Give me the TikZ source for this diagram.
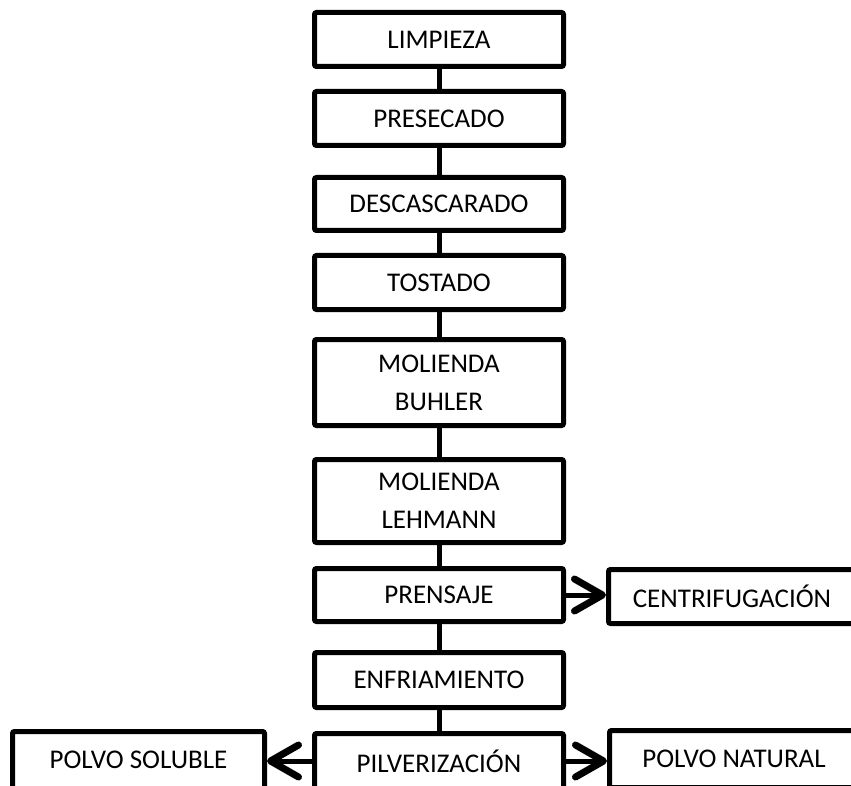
\documentclass[tikz,border=0pt]{standalone}
\usepackage{fontspec}
\setmainfont{Carlito}
\usetikzlibrary{arrows.meta}
\begin{document}
\begin{tikzpicture}[x=1pt,y=-1pt,
  stage/.style={draw, line width=5pt, rounded corners=2pt, inner sep=0pt,
    minimum width=249pt, font=\fontsize{27}{38}\selectfont, align=center},
  link/.style={line width=5pt},
  flow/.style={line width=5pt,
    -{Straight Barb[length=28pt,width=32pt,line width=7pt,round]}}]
\useasboundingbox (0,0) rectangle (851,786);
\clip (0,0) rectangle (851,786);

% main process column
\node[stage, minimum height=54pt] (limpieza) at (439,39.5) {LIMPIEZA};
\node[stage, minimum height=54pt] (presecado) at (439,118.5) {PRESECADO};
\node[stage, minimum height=53pt] (descascarado) at (439,204) {DESCASCARADO};
\node[stage, minimum height=54pt] (tostado) at (439,282.5) {TOSTADO};
\node[stage, minimum height=86pt] (buhler) at (439,382.5) {MOLIENDA\\BUHLER};
\node[stage, minimum height=83pt] (lehmann) at (439,501) {MOLIENDA\\LEHMANN};
\node[stage, minimum height=53pt] (prensaje) at (439,595) {PRENSAJE};
\node[stage, minimum height=55pt] (enfriamiento) at (439,680) {ENFRIAMIENTO};
\node[stage, minimum height=55pt] (pulver) at (439,761) {PILVERIZACIÓN};

% side products
\node[stage, minimum width=247pt, minimum height=54pt] (centri) at (732,596.5) {CENTRIFUGACIÓN};
\node[stage, minimum width=249pt, minimum height=57pt] (natural) at (734,759) {POLVO NATURAL};
\node[stage, minimum width=252pt, minimum height=57pt] (soluble) at (138.5,760) {POLVO SOLUBLE};

% vertical links
\draw[link] (limpieza) -- (presecado);
\draw[link] (presecado) -- (descascarado);
\draw[link] (descascarado) -- (tostado);
\draw[link] (tostado) -- (buhler);
\draw[link] (buhler) -- (lehmann);
\draw[link] (lehmann) -- (prensaje);
\draw[link] (prensaje) -- (enfriamiento);
\draw[link] (enfriamiento) -- (pulver);

% branch arrows
\draw[flow] (prensaje.east) -- (centri.west |- prensaje.east);
\draw[flow] (pulver.east) -- (natural.west |- pulver.east);
\draw[flow] (pulver.west) -- (soluble.east |- pulver.west);
\end{tikzpicture}
\end{document}
